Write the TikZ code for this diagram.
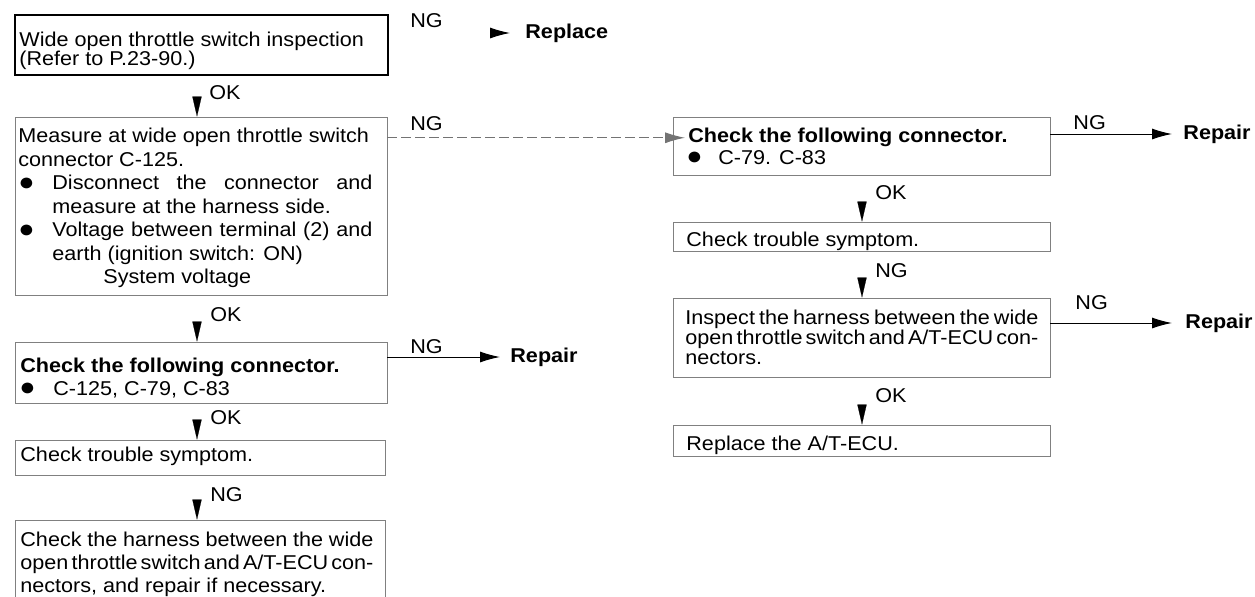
\documentclass[tikz,border=0pt]{standalone}
\usepackage{fontspec}
\setmainfont{Liberation Sans}[FakeStretch=1.08]
\usetikzlibrary{arrows.meta,fit}

% bullet set in a fixed-width slot (its height kept out of the line)
\newcommand\bul[1][17pt]{\makebox[#1][l]{\smash{\raisebox{-0.2pt}{\fontsize{12.5}{12}\selectfont ●}}}}
% one line justified to a given width
\newcommand\jline[2]{\hbox to #1{\spaceskip=.28em plus 1em minus .14em\relax #2}}

\begin{document}
\begin{tikzpicture}[x=0.5pt,y=-0.5pt,
  txt/.style={anchor=north west, inner sep=0pt, align=left,
              font=\fontsize{10}{11.75}\selectfont},
  lbl/.style={anchor=north west, inner sep=0pt, font=\fontsize{10}{11}\selectfont},
  act/.style={anchor=west, inner sep=0pt, font=\fontsize{10}{11}\selectfont\bfseries},
  box/.style={draw=black!50, line width=0.4pt, inner sep=0pt},
  mainbox/.style={draw=black, line width=0.8pt, inner sep=0pt},
  down/.style={-{Triangle[length=10pt,width=4.6pt]}, line width=0.1pt},
  flow/.style={-{Latex[length=10pt,width=5.5pt]}, line width=0.5pt},
  faint/.style={flow, draw=black!55, dash pattern=on 5pt off 2pt},
]
\useasboundingbox (0,0) rectangle (1255,596);
\clip (0,0) rectangle (1255,596);

% arrow columns
\coordinate (colL) at (197,0);
\coordinate (colR) at (862,0);

% ---------- boxes ----------
\node[mainbox, fit={(15,15)(388,75)}] (b1) {};
\node[box, fit={(15,117)(387,295)}] (b2) {};
\node[box, fit={(15,342)(387,403)}] (b3) {};
\node[box, fit={(15,440)(385,475)}] (b4) {};
\node[box, fit={(15,520)(385,640)}] (b5) {};
\node[box, fit={(673,117)(1050,175)}] (r1) {};
\node[box, fit={(673,222)(1050,251)}] (r2) {};
\node[box, fit={(673,298)(1050,377)}] (r3) {};
\node[box, fit={(673,425)(1050,456)}] (r4) {};

% ---------- left column text ----------
\node[txt, font=\fontsize{10}{9.5}\selectfont] (b1t) at (19,32)
  {Wide open throttle switch inspection\\(Refer to P.23-90.)};
\node[txt] (b2t) at (18,128)
  {Measure at wide open throttle switch\\
   connector C-125.\\
   \bul\jline{160pt}{Disconnect the connector and}\\
   \hspace*{17pt}measure at the harness side.\\
   \bul\jline{160pt}{Voltage between terminal (2) and}\\
   \hspace*{17pt}earth (ignition switch: ON)\\
   \hspace*{42.5pt}System voltage};
\node[txt, font=\fontsize{10}{11}\selectfont\bfseries] (b3h) at (20,358)
  {Check the following connector.};
\node[txt] (b3l) at (19,381) {\bul C-125, C-79, C-83};
\node[txt] (b4t) at (20,447) {Check trouble symptom.};
\node[txt, font=\fontsize{10}{11.5}\selectfont] (b5t) at (20,532)
  {\jline{176.5pt}{Check the harness between the wide}\\
   \jline{176.5pt}{open throttle switch and A/T-ECU con-}\\
   nectors, and repair if necessary.};

% ---------- right column text ----------
\node[txt, font=\fontsize{10}{11}\selectfont\bfseries] (r1h) at (688,128)
  {Check the following connector.};
\node[txt] (r1l) at (686,150) {\bul[16pt]C-79. C-83};
\node[txt] (r2t) at (686,232) {Check trouble symptom.};
\node[txt, font=\fontsize{10}{10}\selectfont] (r3t) at (685,310)
  {\jline{176.5pt}{Inspect the harness between the wide}\\
   \jline{176.5pt}{open throttle switch and A/T-ECU con-}\\
   nectors.};
\node[txt] (r4t) at (686,436) {Replace the A/T-ECU.};

% ---------- outcomes ----------
\node[act] (rpl)  at (525,33)  {Replace};
\node[act] (repL) at (510,357) {Repair};
\node[act] (rep1) at (1183,134) {Repair};
\node[act] (rep2) at (1185,323) {Repair};

% ---------- branch labels ----------
\node[lbl] (ng1) at (410,13)  {NG};
\node[lbl] (ok1) at (209,85)  {OK};
\node[lbl] (ng2) at (410,116) {NG};
\node[lbl] (ok2) at (210,307) {OK};
\node[lbl] (ng3) at (410,339) {NG};
\node[lbl] (ok3) at (210,410) {OK};
\node[lbl] (ng4) at (210,487) {NG};
\node[lbl] (ng5) at (1073,115) {NG};
\node[lbl] (ok4) at (875,185) {OK};
\node[lbl] (ng6) at (875,263) {NG};
\node[lbl] (ng7) at (1075,295) {NG};
\node[lbl] (ok5) at (875,388) {OK};

% ---------- downward steps (head only) ----------
\draw[down, shorten <=10.8pt] (b1.south -| colL) -- (b2.north -| colL);
\draw[down, shorten <=13.3pt] (b2.south -| colL) -- (b3.north -| colL);
\draw[down, shorten <=8.3pt]  (b3.south -| colL) -- (b4.north -| colL);
\draw[down, shorten <=12.3pt] (b4.south -| colL) -- (b5.north -| colL);
\draw[down, shorten <=13.3pt] (r1.south -| colR) -- (r2.north -| colR);
\draw[down, shorten <=13.3pt] (r2.south -| colR) -- (r3.north -| colR);
\draw[down, shorten <=13.8pt] (r3.south -| colR) -- (r4.north -| colR);

% ---------- sideways branches ----------
\draw[flow, shorten <=51pt, shorten >=7.5pt] (b1.east |- rpl.west) -- (rpl.west);
\draw[faint, shorten >=1.5pt] (b2.east |- r1h.west) -- (r1h.west);
\draw[flow, shorten >=5pt] (b3.east |- repL.west) -- (repL.west);
\draw[flow, shorten >=5.5pt] (r1.east |- rep1.west) -- (rep1.west);
\draw[flow, shorten >=6.5pt] (r3.east |- rep2.west) -- (rep2.west);
\end{tikzpicture}
\end{document}
